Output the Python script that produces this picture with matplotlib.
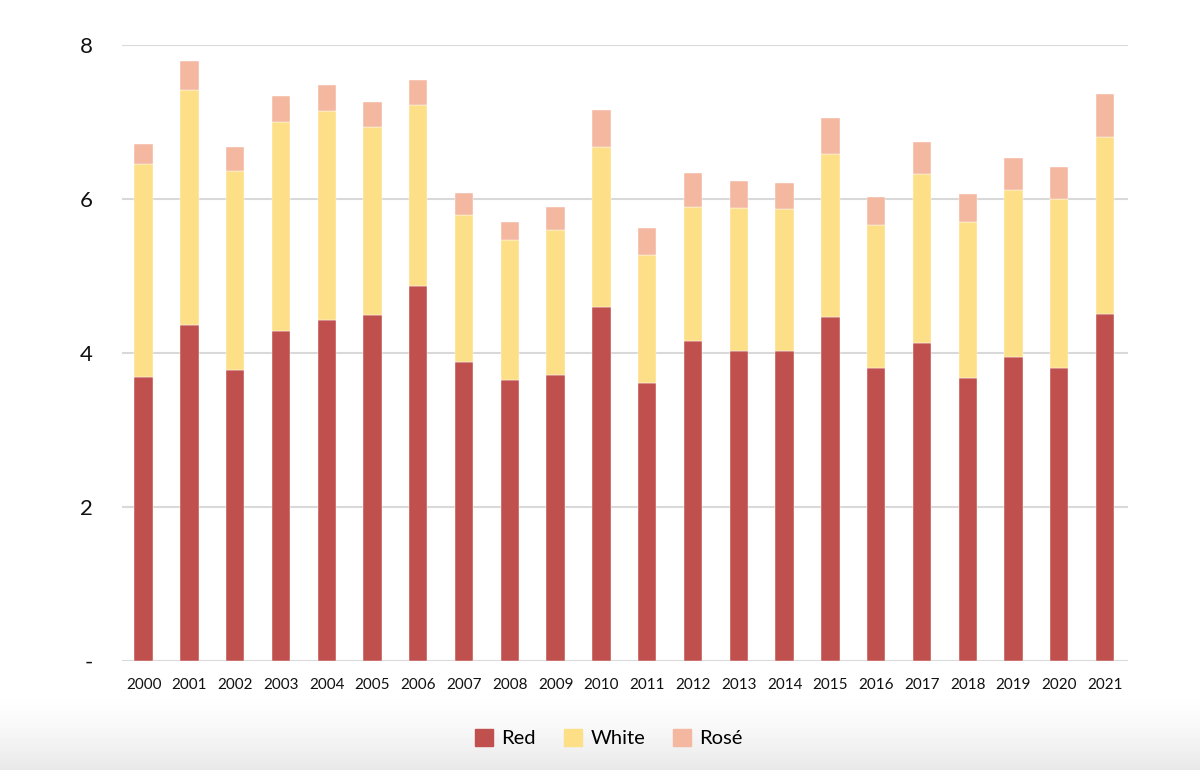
import numpy as np
import matplotlib
matplotlib.use('Agg')
import matplotlib.pyplot as plt
from matplotlib.patches import Patch

plt.rcParams['font.family'] = ['Lato', 'DejaVu Sans']

# Wine production by colour
years = [str(y) for y in range(2000, 2022)]
red = [3.69, 4.36, 3.78, 4.29, 4.43, 4.49, 4.87, 3.88, 3.65, 3.71, 4.60,
       3.61, 4.16, 4.03, 4.03, 4.47, 3.80, 4.13, 3.68, 3.95, 3.81, 4.50]
white = [2.76, 3.06, 2.58, 2.71, 2.71, 2.45, 2.35, 1.91, 1.82, 1.89, 2.08,
         1.66, 1.74, 1.85, 1.84, 2.11, 1.86, 2.20, 2.02, 2.17, 2.19, 2.31]
rose = [0.26, 0.37, 0.32, 0.34, 0.34, 0.32, 0.33, 0.29, 0.23, 0.30, 0.48,
        0.35, 0.44, 0.35, 0.34, 0.47, 0.36, 0.41, 0.36, 0.41, 0.42, 0.55]
yticks = [0, 2, 4, 6, 8]
ytick_labels = ['-', '2', '4', '6', '8']

c_red = '#C0504D'
c_white = '#FDDF87'
c_rose = '#F4B7A0'

fig = plt.figure(figsize=(12, 7.7), dpi=100)

# soft grey fade at the bottom of the canvas
bg = fig.add_axes([0, 0, 1, 1], zorder=-10)
grad = np.ones((770, 1))
fade = np.linspace(0, 1, 80) ** 1.5
grad[-80:, 0] = 1 - 0.09 * fade
bg.imshow(grad, cmap='gray', vmin=0, vmax=1, aspect='auto', extent=[0, 1, 0, 1])
bg.axis('off')

ax = fig.add_axes([0.1017, 0.1416, 0.8383, 0.8])
ax.patch.set_alpha(0)

x = np.arange(len(years))
red = np.array(red)
white = np.array(white)
rose = np.array(rose)
w = 0.4
ax.bar(x, red, w, color=c_red, edgecolor='white', linewidth=0.3, zorder=3, label='Red')
ax.bar(x, white, w, bottom=red, color=c_white, edgecolor='white', linewidth=0.3, zorder=3, label='White')
ax.bar(x, rose, w, bottom=red + white, color=c_rose, edgecolor='white', linewidth=0.3, zorder=3, label='Rosé')

ax.set_xlim(-0.47, len(years) - 0.5)
ax.set_ylim(0, 8)
ax.set_yticks(yticks)
ax.set_yticklabels(ytick_labels, fontsize=16)
ax.set_xticks(x)
ax.set_xticklabels(years, fontsize=11)
ax.tick_params(length=0, colors='#111111')
ax.tick_params(axis='y', pad=21)
ax.tick_params(axis='x', pad=12)
ax.grid(axis='y', color='#d9d9d9', linewidth=1.5, zorder=0)
for s in ax.spines.values():
    s.set_visible(False)
ax.axhline(0, color='#d9d9d9', linewidth=2, zorder=2)

handles = [Patch(color=c_red, label='Red'),
           Patch(color=c_white, label='White'),
           Patch(color=c_rose, label='Rosé')]
fig.legend(handles=handles, loc='center', bbox_to_anchor=(609 / 1200, 1 - 738 / 770),
           ncol=3, frameon=False, fontsize=14.5, handlelength=0.9, handleheight=0.9,
           handletextpad=0.4, columnspacing=1.4)

fig.savefig('out.png', dpi=100)
